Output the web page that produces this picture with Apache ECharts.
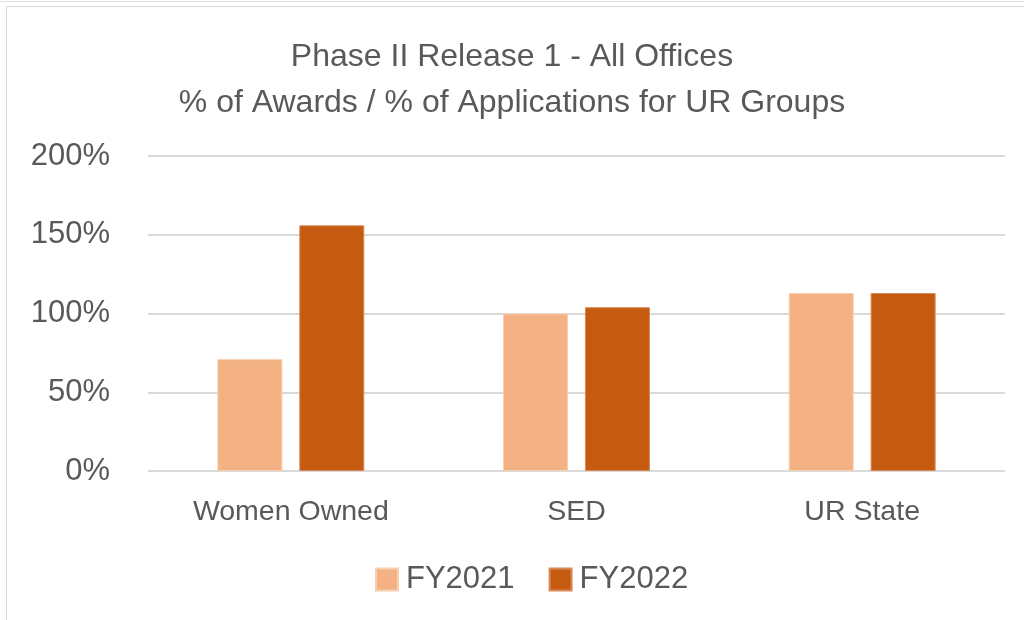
<!DOCTYPE html>
<html>
<head>
<meta charset="utf-8">
<script src="https://cdn.jsdelivr.net/npm/echarts@6/dist/echarts.min.js"></script>
<style>
  html, body { margin: 0; padding: 0; background: #fff; }
  #chart { position: absolute; left: 0; top: 0; width: 1024px; height: 620px; }
  .frame1 { position: absolute; left: 0; top: 1px; width: 1024px; height: 0; border-top: 1px solid #e0e0e0; }
  .frame2 { position: absolute; left: 6px; top: 6px; width: 1018px; height: 614px; border-top: 1px solid #d9d9d9; border-left: 1px solid #d9d9d9; }
</style>
</head>
<body>
<div class="frame1"></div>
<div class="frame2"></div>
<div id="chart"></div>
<script>
var categories = ['Women Owned', 'SED', 'UR State'];
var fy2021 = [71, 100, 113];
var fy2022 = [156, 104, 113];
var yTicks = [0, 50, 100, 150, 200];

var myChart = echarts.init(document.getElementById('chart'));

var textColor = '#595959';
var fontName = '"Liberation Sans", Arial, sans-serif';

var option = {
    animation: false,
    title: {
        text: 'Phase II Release 1 - All Offices\n% of Awards / % of Applications for UR Groups',
        left: 'center',
        top: 29,
        textStyle: {
            color: textColor,
            fontFamily: fontName,
            fontWeight: 'normal',
            fontSize: 32,
            lineHeight: 46
        }
    },
    legend: {
        bottom: 20,
        left: 370,
        itemWidth: 22,
        itemHeight: 22,
        itemGap: 34,
        icon: 'rect',
        textStyle: {
            color: textColor,
            fontFamily: fontName,
            fontSize: 31,
            padding: [0, 0, 0, 3]
        },
        data: ['FY2021', 'FY2022']
    },
    grid: {
        left: 148,
        right: 19,
        top: 156,
        bottom: 149
    },
    xAxis: {
        type: 'category',
        data: categories,
        axisLine: { show: false },
        axisTick: { show: false },
        axisLabel: {
            color: textColor,
            fontFamily: fontName,
            fontSize: 28.5,
            margin: 27
        }
    },
    yAxis: {
        type: 'value',
        min: yTicks[0],
        max: yTicks[yTicks.length - 1],
        interval: 50,
        axisLine: { show: false },
        axisTick: { show: false },
        splitLine: { lineStyle: { color: '#d9d9d9', width: 2 } },
        axisLabel: {
            color: textColor,
            fontFamily: fontName,
            fontSize: 31,
            margin: 38,
            formatter: '{value}%'
        }
    },
    series: [
        {
            name: 'FY2021',
            type: 'bar',
            data: fy2021,
            barWidth: 65,
            barGap: '26%',
            itemStyle: { color: '#F4B183', borderColor: '#f8cfb0', borderWidth: 1 }
        },
        {
            name: 'FY2022',
            type: 'bar',
            data: fy2022,
            barWidth: 65,
            itemStyle: { color: '#C55A11', borderColor: '#d98a5a', borderWidth: 1 }
        }
    ]
};
myChart.setOption(option);
</script>
</body>
</html>
